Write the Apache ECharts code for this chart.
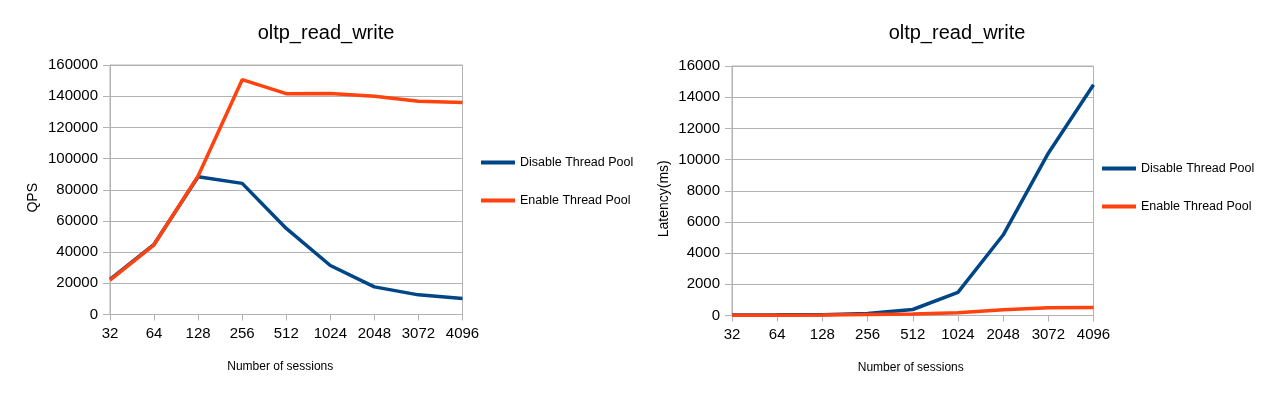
<!DOCTYPE html>
<html>
<head>
<meta charset="utf-8">
<script src="https://cdn.jsdelivr.net/npm/echarts@6/dist/echarts.min.js"></script>
<style>
  html, body { margin: 0; padding: 0; background: #fff; }
  #chart { width: 1274px; height: 401px; }
</style>
</head>
<body>
<div id="chart"></div>
<script>
// data
const sessions = ['32', '64', '128', '256', '512', '1024', '2048', '3072', '4096'];
const qpsDisable = [22500, 45000, 88300, 84100, 55200, 31400, 17700, 12600, 10300];
const qpsEnable = [22000, 44700, 88800, 150600, 141600, 141800, 139900, 136700, 136000];
const latDisable = [40, 45, 55, 130, 385, 1480, 5160, 10410, 14800];
const latEnable = [20, 22, 30, 70, 100, 170, 365, 490, 515];
const seriesNames = ['Disable Thread Pool', 'Enable Thread Pool'];

const BLUE = '#004586';
const ORANGE = '#ff420e';
const FONT = 'Liberation Sans';

function xAxis(gridIndex, shift) {
    return {
        type: 'category',
        gridIndex: gridIndex,
        data: sessions,
        boundaryGap: false,
        name: 'Number of sessions',
        nameLocation: 'middle',
        nameGap: 46,
        nameTextStyle: {fontSize: 12, color: '#000', fontFamily: FONT, padding: [0, shift, 0, 0]},
        axisLine: {lineStyle: {color: '#b3b3b3', width: 1}},
        axisTick: {show: true, length: 6, alignWithLabel: true, lineStyle: {color: '#b3b3b3'}},
        axisLabel: {fontSize: 15, color: '#000', fontFamily: FONT, margin: 12, interval: 0},
        splitLine: {show: false}
    };
}

function yAxis(gridIndex, name, max, interval, gap) {
    return {
        type: 'value',
        gridIndex: gridIndex,
        min: 0,
        max: max,
        interval: interval,
        name: name,
        nameLocation: 'middle',
        nameGap: gap,
        nameTextStyle: {fontSize: 14, color: '#000', fontFamily: FONT, padding: [0, 16, 0, 0]},
        axisLine: {show: true, lineStyle: {color: '#b3b3b3', width: 1}},
        axisTick: {show: true, length: 7, lineStyle: {color: '#b3b3b3'}},
        axisLabel: {fontSize: 15, color: '#000', fontFamily: FONT, margin: 12,
                    formatter: v => String(v)},
        splitLine: {lineStyle: {color: '#b3b3b3'}}
    };
}

function line(name, color, data, idx) {
    return {
        name: name,
        type: 'line',
        xAxisIndex: idx,
        yAxisIndex: idx,
        data: data,
        showSymbol: false,
        symbol: 'none',
        lineStyle: {color: color, width: 3.5},
        itemStyle: {color: color},
        z: name === seriesNames[1] ? 3 : 2,
        animation: false
    };
}

function legend(left, top) {
    return {
        orient: 'vertical',
        left: left,
        top: top,
        padding: 0,
        icon: 'rect',
        itemWidth: 34,
        itemHeight: 4,
        itemGap: 25,
        textStyle: {fontSize: 12.5, color: '#000', fontFamily: FONT},
        data: seriesNames.slice()
    };
}

const chart = echarts.init(document.getElementById('chart'));
chart.setOption({
    backgroundColor: '#fff',
    animation: false,
    title: [
        {text: 'oltp_read_write', left: 321, top: 18, textAlign: 'center',
         textStyle: {fontSize: 20, fontWeight: 'normal', color: '#000', fontFamily: FONT}},
        {text: 'oltp_read_write', left: 952, top: 18, textAlign: 'center',
         textStyle: {fontSize: 20, fontWeight: 'normal', color: '#000', fontFamily: FONT}}
    ],
    legend: [legend(481, 156), legend(1102, 162)],
    grid: [
        {left: 110, right: 811.5, top: 65, bottom: 86.5, show: true, borderColor: '#b3b3b3', borderWidth: 1},
        {left: 732, right: 180.5, top: 66, bottom: 85.5, show: true, borderColor: '#b3b3b3', borderWidth: 1}
    ],
    xAxis: [xAxis(0, 12), xAxis(1, 4)],
    yAxis: [
        yAxis(0, 'QPS', 160000, 20000, 70),
        yAxis(1, 'Latency(ms)', 16000, 2000, 61)
    ],
    series: [
        line(seriesNames[0], BLUE, qpsDisable, 0),
        line(seriesNames[1], ORANGE, qpsEnable, 0),
        line(seriesNames[0], BLUE, latDisable, 1),
        line(seriesNames[1], ORANGE, latEnable, 1)
    ]
});
</script>
</body>
</html>
